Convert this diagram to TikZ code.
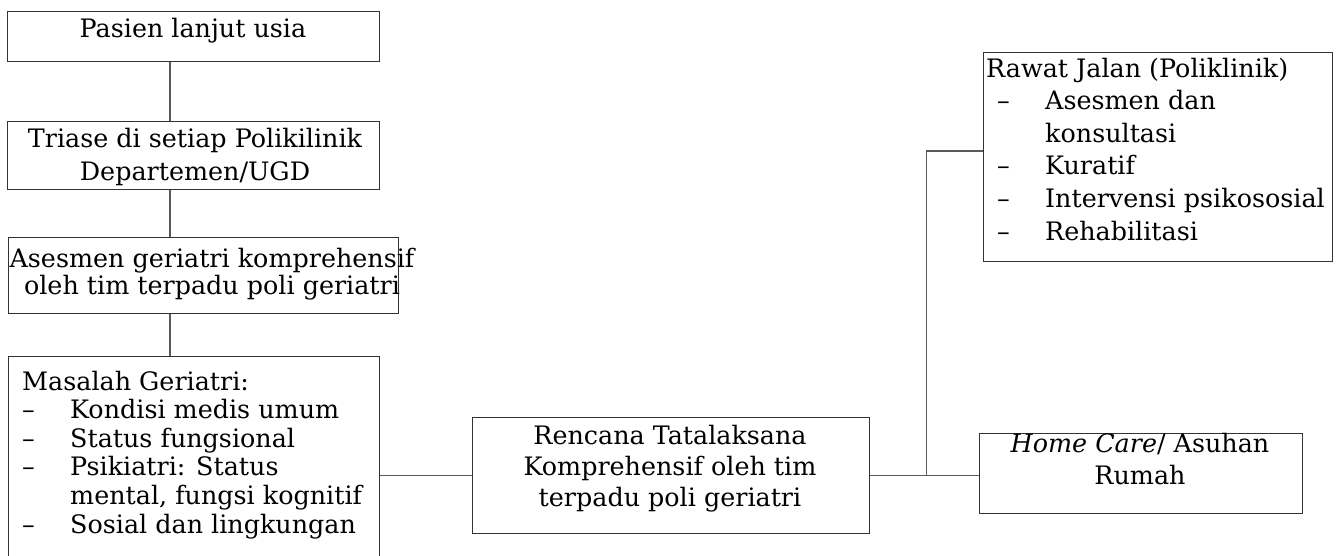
\documentclass[tikz,border=0pt]{standalone}
\usepackage{fontspec}
\setmainfont{DejaVu Serif}
\usetikzlibrary{calc}
\newcommand{\dsh}{\makebox[48pt][l]{–}}
\begin{document}
\begin{tikzpicture}[x=1pt,y=-1pt,
  box/.style={draw=black!80, line width=1.1pt, inner sep=0pt, anchor=north west},
  conn/.style={draw=black!65, line width=1.1pt},
  txt/.style={inner sep=0pt, font=\fontsize{25.4}{29}\selectfont}]
\useasboundingbox (0,0) rectangle (1336,555);
\fill[white] (0,0) rectangle (1336,555);
\clip (0,0) rectangle (1336,555);
% boxes
\node[box, minimum width=372pt, minimum height=50pt] (n1) at (7,11) {};
\node[box, minimum width=372pt, minimum height=68pt] (n2) at (7,121) {};
\node[box, minimum width=390pt, minimum height=76pt] (n3) at (8,237) {};
\node[box, minimum width=371pt, minimum height=260pt] (n4) at (8,356) {};
\node[box, minimum width=397pt, minimum height=116pt] (n5) at (472,417) {};
\node[box, minimum width=323pt, minimum height=80pt] (n6) at (979,433) {};
\node[box, minimum width=349pt, minimum height=209pt] (n7) at (983,52) {};
% texts
\node[txt, anchor=base] (t1) at (193,37) {Pasien lanjut usia};
\node[txt, anchor=base] (t2) at (195,147) {\parbox[t]{380pt}{\centering\fontsize{25.4}{33}\selectfont Triase di setiap Polikilinik\\Departemen/UGD}};
\node[txt, anchor=base] (t3) at (212,267) {\parbox[t]{420pt}{\centering\fontsize{25.4}{27}\selectfont Asesmen geriatri komprehensif\\oleh tim terpadu poli geriatri}};
\node[txt, anchor=base west] (t4) at (22,390) {\parbox[t]{356pt}{\raggedright\fontsize{25.4}{28.6}\selectfont Masalah Geriatri:\\\dsh Kondisi medis umum\\\dsh Status fungsional\\\dsh Psikiatri: Status\\\hspace*{48pt}mental, fungsi kognitif\\\dsh Sosial dan lingkungan}};
\node[txt, anchor=base] (t5) at (670,444) {\parbox[t]{390pt}{\centering\fontsize{25.4}{31}\selectfont Rencana Tatalaksana\\Komprehensif oleh tim\\terpadu poli geriatri}};
\node[txt, anchor=base] (t6) at (1140,452) {\parbox[t]{320pt}{\centering\fontsize{25.4}{32}\selectfont\textit{Home Care}/ Asuhan\\Rumah}};
\node[txt, anchor=base west] (t7) at (986,77) {\parbox[t]{348pt}{\raggedright\fontsize{25.4}{32.6}\selectfont Rawat Jalan (Poliklinik)\\\hspace*{11pt}\dsh Asesmen dan\\\hspace*{59pt}konsultasi\\\hspace*{11pt}\dsh Kuratif\\\hspace*{11pt}\dsh Intervensi psikososial\\\hspace*{11pt}\dsh Rehabilitasi}};
% connectors
\draw[conn] ($(n1.south west)+(163,0)$) -- ($(n2.north west)+(163,0)$);
\draw[conn] ($(n2.south west)+(163,0)$) -- ($(n3.north west)+(162,0)$);
\draw[conn] ($(n3.south west)+(162,0)$) -- ($(n4.north west)+(162,0)$);
\draw[conn] (n5.west) -- (n5.west -| n4.east);
\draw[conn] (n5.east) -- (n5.east -| n6.west);
\coordinate (j) at ($(n5.east)+(56,0)$);
\draw[conn] (j) |- ($(n7.north west)+(0,99)$);
\end{tikzpicture}
\end{document}
